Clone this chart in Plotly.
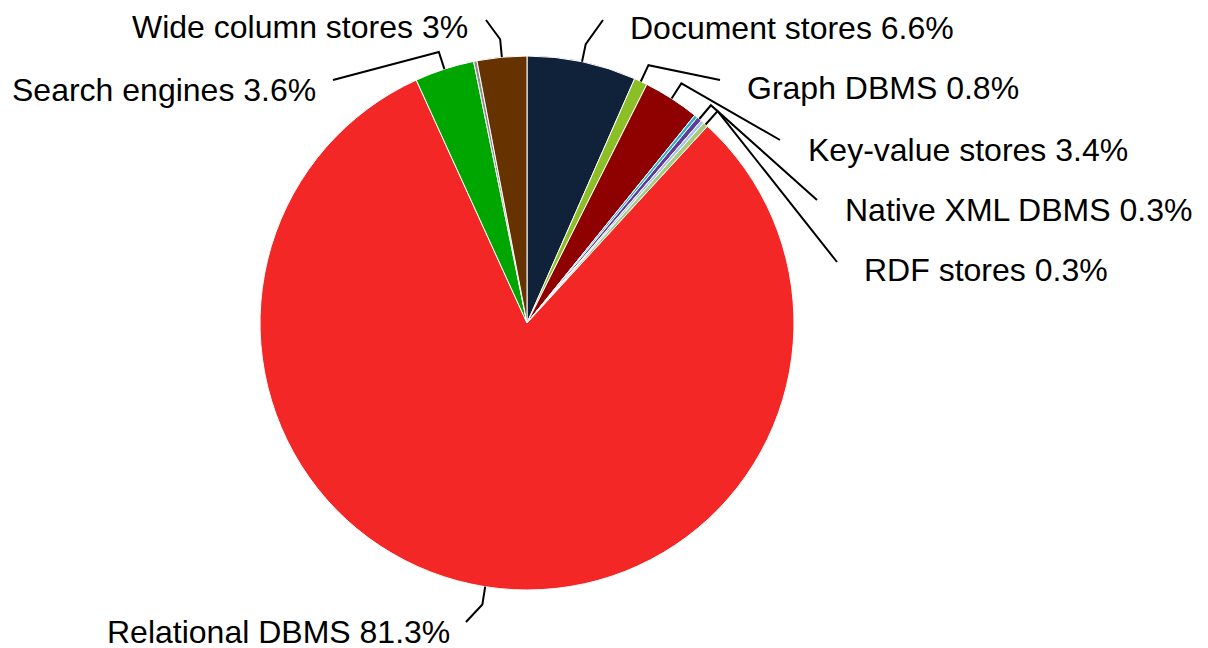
import math
import plotly.graph_objects as go

# ---- data ----
categories = ["Document stores", "Graph DBMS", "Key-value stores", "Multivalue DBMS",
              "Native XML DBMS", "Object oriented DBMS", "RDF stores", "Relational DBMS",
              "Search engines", "Time Series DBMS", "Wide column stores"]
shares = [6.6, 0.8, 3.4, 0.2, 0.3, 0.2, 0.3, 81.3, 3.6, 0.2, 3.0]
show_label = [True, True, True, False, True, False, True, True, True, False, True]

# ---- styles / layout ----
colors = ["#0f2239", "#8cbf26", "#8f0000", "#22b3d6", "#5e3c99", "#a6c1ee",
          "#a5cc79", "#f42727", "#00a600", "#8c8c8c", "#663300"]
OFF = 8                            # page body margin offset
W, H = 1208 - OFF, 648 - OFF
CX, CY, R = 527, 323, 267          # pie centre / radius in window pixels
ELBOW_R = 285
FONT = dict(family="Liberation Sans, Arial, sans-serif", size=32, color="black")

# label placements (window pixels): leader end point, text anchor point, side
label_layout = {
    "Document stores": ((603, 20), (628, 28), "left"),
    "Graph DBMS": ((720, 80), (745, 88), "left"),
    "Key-value stores": ((780, 140), (806, 150), "left"),
    "Native XML DBMS": ((817, 200), (843, 210), "left"),
    "RDF stores": ((837, 262), (862, 270), "left"),
    "Relational DBMS": ((466, 622), (452, 632), "right"),
    "Search engines": ((333, 80), (318, 90), "right"),
    "Wide column stores": ((486, 20), (470, 27), "right"),
}


def px(x):
    return (x - OFF) / W


def py(y):
    return 1 - (y - OFF) / H


fig = go.Figure(go.Pie(
    labels=categories, values=shares, sort=False, direction="clockwise", rotation=0,
    marker=dict(colors=colors, line=dict(color="white", width=1)),
    textinfo="none", hoverinfo="label+value",
    domain=dict(x=[px(CX - R), px(CX + R)], y=[py(CY + R), py(CY - R)]),
    showlegend=False,
))

total = sum(shares)
cum = 0.0
shapes, annotations = [], []
for name, v, show in zip(categories, shares, show_label):
    mid = (cum + v / 2) / total * 2 * math.pi
    cum += v
    if not show:
        continue
    (ex, ey), (tx, ty), side = label_layout[name]
    ax, ay = CX + R * math.sin(mid), CY - R * math.cos(mid)
    bx, by = CX + ELBOW_R * math.sin(mid), CY - ELBOW_R * math.cos(mid)
    path = f"M {px(ax)},{py(ay)} L {px(bx)},{py(by)} L {px(ex)},{py(ey)}"
    shapes.append(dict(type="path", xref="paper", yref="paper", path=path,
                       line=dict(color="black", width=2)))
    annotations.append(dict(xref="paper", yref="paper", x=px(tx), y=py(ty),
                            xanchor=side, yanchor="middle", showarrow=False,
                            text=f"{name} {v:g}%", font=FONT))

fig.update_layout(
    width=W, height=H, margin=dict(l=0, r=0, t=0, b=0),
    paper_bgcolor="white", plot_bgcolor="white",
    shapes=shapes, annotations=annotations,
)
fig.write_html("out.html")
